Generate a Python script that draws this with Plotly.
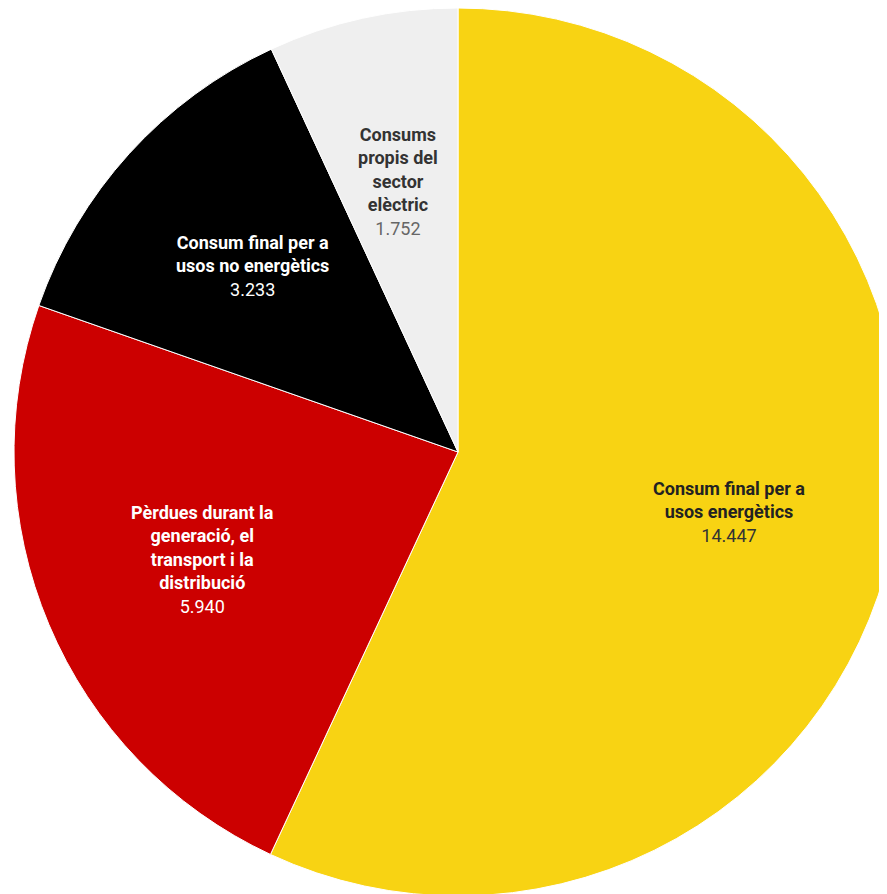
import math
import plotly.graph_objects as go

labels = ["Consum final per a<br>usos energètics",
          "Pèrdues durant la<br>generació, el<br>transport i la<br>distribució",
          "Consum final per a<br>usos no energètics",
          "Consums<br>propis del<br>sector<br>elèctric"]
values = [14447, 5940, 3233, 1752]
colors = ["#F8D313", "#CC0000", "#000000", "#EFEFEF"]
name_colors = ["#222222", "#FFFFFF", "#FFFFFF", "#333333"]
value_colors = ["#333333", "#FFFFFF", "#FFFFFF", "#666666"]

def fmt(v):
    return f"{v:,}".replace(",", ".")

fig = go.Figure(go.Pie(
    labels=labels,
    values=values,
    textinfo="none",
    sort=False,
    direction="clockwise",
    rotation=0,
    marker=dict(colors=colors, line=dict(color="#FFFFFF", width=1)),
    hoverinfo="label+value",
    showlegend=False,
    domain=dict(x=[0, 1], y=[0, 1]),
))

# labels placed along each slice's mid-angle
total = sum(values)
cum = 0.0
label_r = 0.625
for l, v, nc, vc in zip(labels, values, name_colors, value_colors):
    mid = (cum + v / 2) / total * 2 * math.pi
    cum += v
    x = 0.5 + 0.5 * label_r * math.sin(mid)
    y = 0.5 + 0.5 * label_r * math.cos(mid)
    fig.add_annotation(
        x=x, y=y, xref="paper", yref="paper",
        xanchor="center", yanchor="middle",
        text=f"<b>{l}</b><br><span style='color:{vc}'>{fmt(v)}</span>",
        showarrow=False,
        font=dict(family="Roboto", size=18, color=nc),
        align="center",
    )

fig.update_layout(
    width=894, height=888,
    margin=dict(l=6, r=0, t=0, b=0),
    paper_bgcolor="#FFFFFF",
    font=dict(family="Roboto"),
)

fig.write_html("out.html")
